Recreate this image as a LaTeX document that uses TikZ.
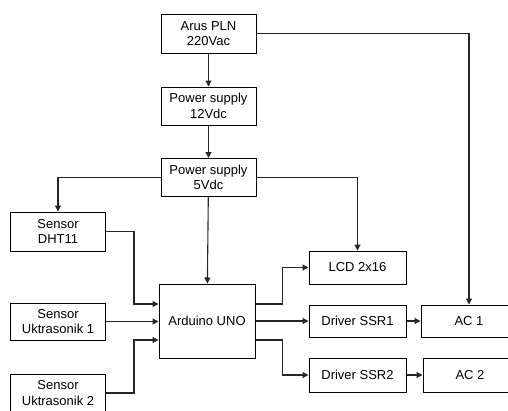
\documentclass[tikz,border=0pt]{standalone}
\usepackage{fontspec}
\setmainfont{Liberation Sans}
\usetikzlibrary{arrows.meta}
\begin{document}
\begin{tikzpicture}[x=1pt,y=-1pt,
  blok/.style={draw=black, line width=1pt, fill=white, align=center, inner sep=0pt,
    minimum width=95pt, font=\fontsize{13}{15.5}\selectfont},
  panah/.style={draw=black!85, line width=1.1pt, -{Triangle[length=6pt,width=6pt]}},
  garis/.style={draw=black!85, line width=1.1pt}]
\useasboundingbox (0,0) rectangle (508,410);
\node [blok, minimum height=39pt] (arus) at (208.5,33.5) {Arus PLN\\220Vac};
\node [blok, minimum height=38pt] (ps12) at (208.5,106) {Power supply\\12Vdc};
\node [blok, minimum height=38pt] (ps5) at (208.5,177.5) {Power supply\\5Vdc};
\node [blok, minimum height=39pt] (dht) at (58,231.5) {Sensor\\DHT11};
\node [blok, minimum height=37pt] (ult1) at (58,321.5) {Sensor\\Uktrasonik 1};
\node [blok, minimum height=38pt] (ult2) at (58,393) {Sensor\\Uktrasonik 2};
\node [blok, minimum width=96pt, minimum height=74pt] (uno) at (207,321) {Arduino UNO};
\node [blok, minimum width=97pt, minimum height=33pt] (lcd) at (357.5,267.5) {LCD 2x16};
\node [blok, minimum width=97pt, minimum height=32pt] (ssr1) at (357.5,321) {Driver SSR1};
\node [blok, minimum width=97pt, minimum height=34pt] (ssr2) at (357.5,375) {Driver SSR2};
\node [blok, minimum width=96pt, minimum height=32pt] (ac1) at (469,321) {AC 1};
\node [blok, minimum width=94pt, minimum height=34pt] (ac2) at (470,375) {AC 2};
\draw [panah] (arus) -- (ps12);
\draw [panah] (ps12) -- (ps5);
\draw [panah] (ps5) -- (uno);
\draw [panah] (ps5.west) -| (dht.north);
\draw [panah] (ps5.east) -| (lcd.north);
\draw [panah] (arus.east) -| (ac1.north);
\draw [panah] (dht.east) -- ++(28,0) |- ([yshift=17pt]uno.west);
\draw [panah] (ult1.east) -- (ult1.east -| uno.west);
\draw [panah] (ult2.east) -- ++(28,0) |- ([yshift=-19pt]uno.west);
\draw [panah] ([yshift=17pt]uno.east) -- ++(27,0) |- (lcd.west);
\draw [panah] (uno.east) -- (ssr1.west);
\draw [panah] ([yshift=-19pt]uno.east) -- ++(27,0) |- (ssr2.west);
\draw [panah] (ssr1) -- (ac1);
\draw [panah] (ssr2) -- (ac2);
\end{tikzpicture}
\end{document}
